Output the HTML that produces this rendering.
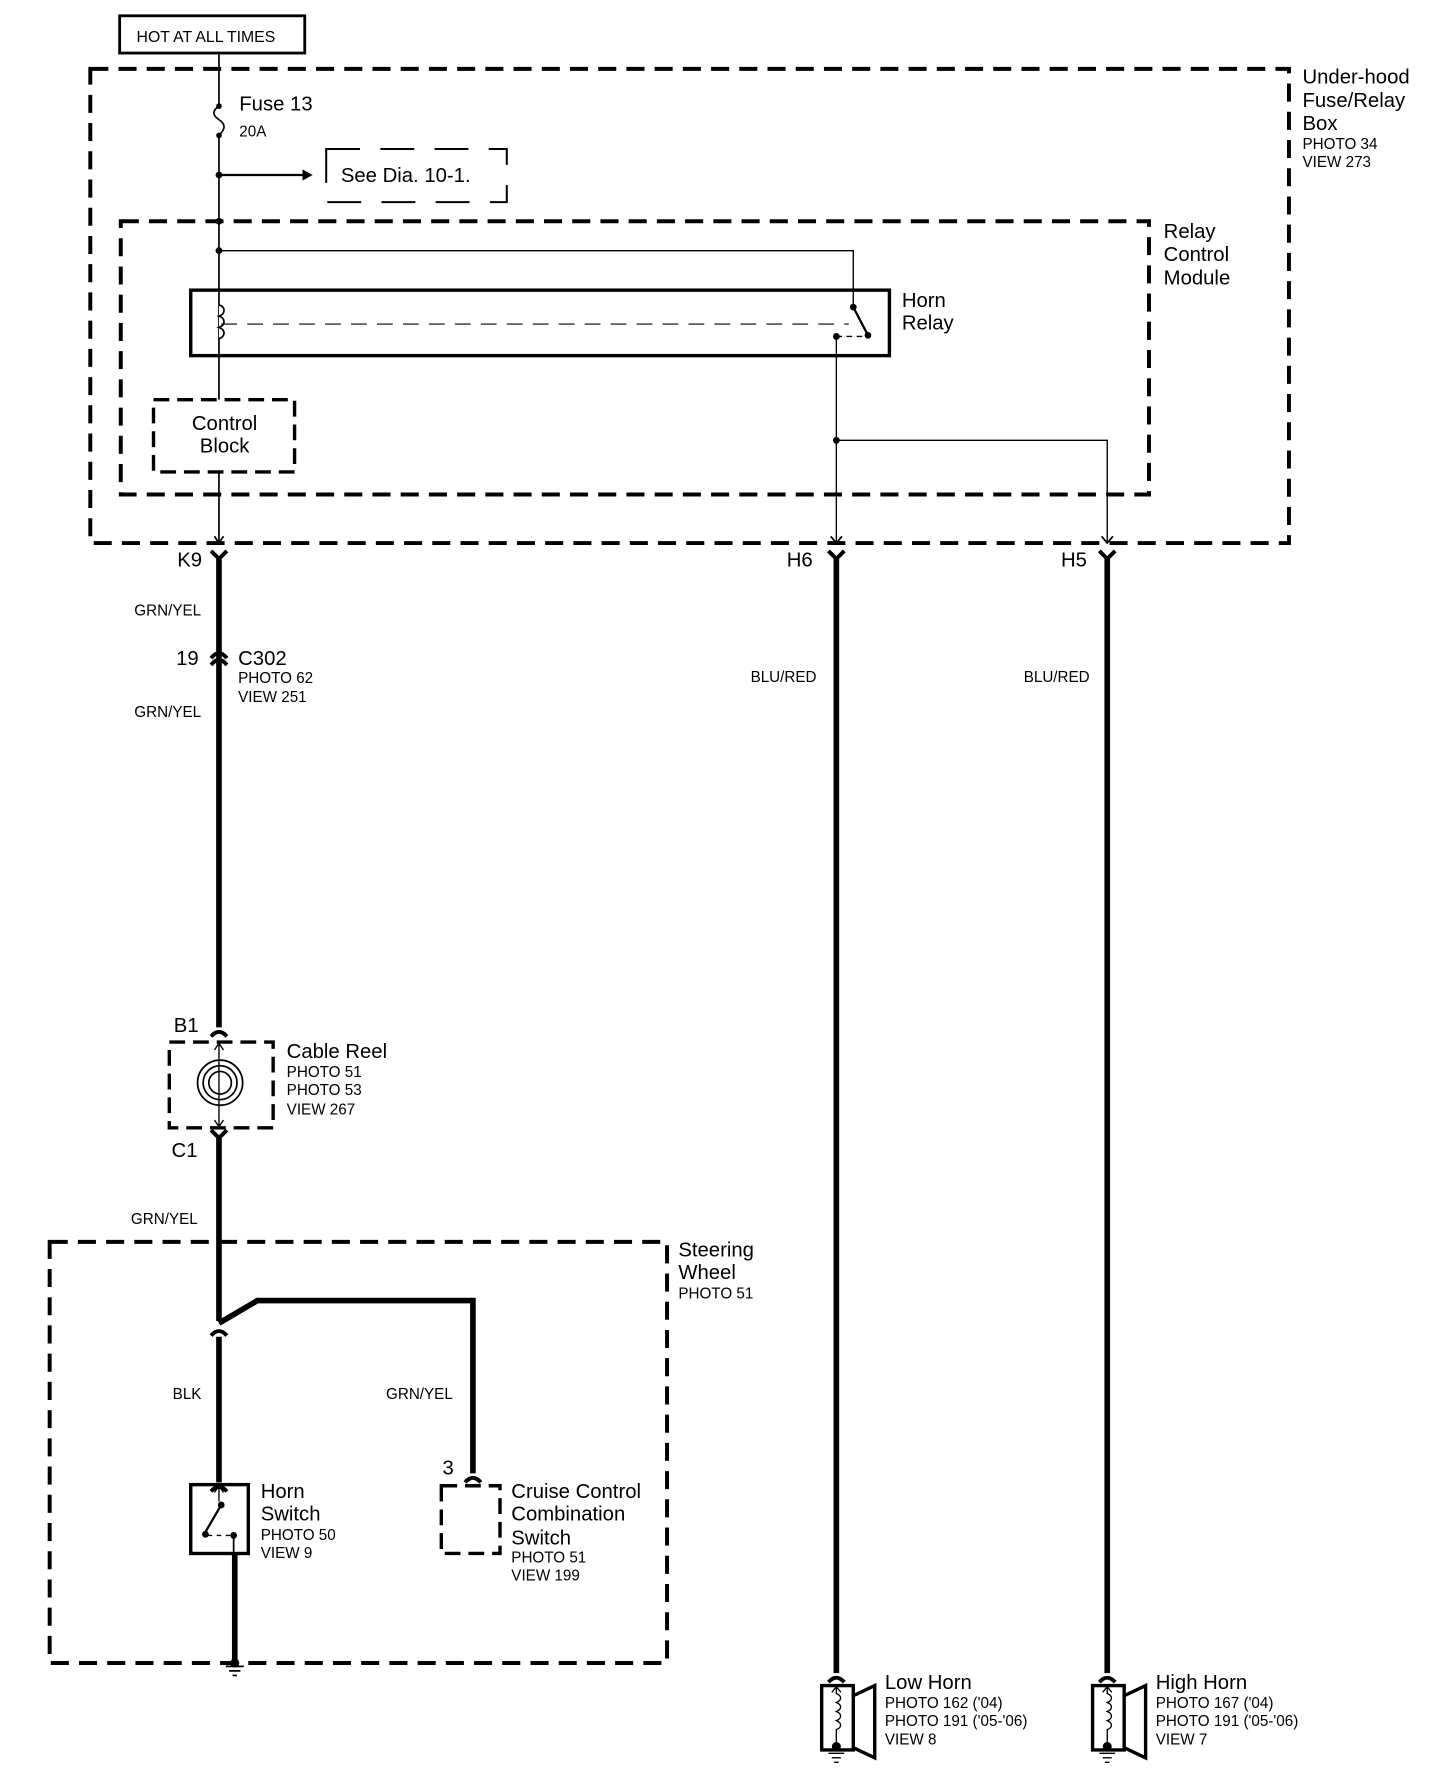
<!DOCTYPE html>
<html><head><meta charset="utf-8"><style>
html,body{margin:0;padding:0;background:#fff}
svg{display:block}
text{font-family:"Liberation Sans",sans-serif;fill:#000}
.s{font-size:13.5px}.m{font-size:18px}
</style></head><body>
<svg width="1456" height="1768" viewBox="0 0 1290 1566" preserveAspectRatio="none" xmlns="http://www.w3.org/2000/svg">
<g fill="none" stroke="#000">
<!-- hot box -->
<rect x="106" y="14" width="164" height="33" stroke-width="2.5"/>
<!-- outer dashed boxes -->
<rect x="80" y="61" width="1062" height="420" stroke-width="3.5" stroke-dasharray="16 9"/>
<rect x="107" y="196" width="911" height="242" stroke-width="3.5" stroke-dasharray="16 9"/>
<rect x="289" y="132" width="160" height="47" stroke-width="1.8" stroke-dasharray="30 18"/>
<rect x="136" y="354" width="125" height="64" stroke-width="3" stroke-dasharray="14 7"/>
<!-- fuse line -->
<path d="M194 47 V94 M194 120 V354 M194 418 V481" stroke-width="1.5"/>
<path d="M194 94 c-6 4 -6 8 0 12 c6 4 6 8 0 14" stroke-width="1.5"/>
<path d="M194 155 H268" stroke-width="2"/>
<!-- relay -->
<path d="M194 222 H756 V272" stroke-width="1.2"/>
<rect x="169" y="257" width="619" height="58" stroke-width="3"/>
<path d="M194 270 c6 2 6 8 0 10 c6 2 6 8 0 10 c6 2 6 8 0 10" stroke-width="1.5" fill="#fff"/>
<path d="M196 287 H752" stroke-width="1" stroke-dasharray="14 9"/>
<path d="M756 272 L768 295" stroke-width="2"/>
<path d="M741 298 H768" stroke-width="1.2" stroke-dasharray="5 4"/>
<path d="M741 298 V481 M741 390 H981 V481" stroke-width="1.2"/>
<!-- wires -->
<path d="M194 495 V910 M194 1008 V1170 M194 1184 V1313 M208 1376 V1470" stroke-width="5"/>
<path d="M194 1172 L228 1152 H419 V1305" stroke-width="5"/>
<path d="M741 495 V1482 M981 495 V1482" stroke-width="5"/>
<!-- connector glyphs (arrow + cup) -->
<g stroke-width="1.5">
<path d="M190 475 L194 481 L198 475 M736 475 L741 481 L746 475 M976 475 L981 481 L986 475"/>
</g>
<g stroke-width="3.5">
<path d="M187 488 L194 495 L201 488 M734 488 L741 495 L748 488 M974 488 L981 495 L988 488"/>
<path d="M187 583 Q194 574 201 583 M187 589 Q194 580 201 589"/>
<path d="M187 918 Q194 910 201 918"/>
<path d="M187 1001 L194 1008 L201 1001"/>
<path d="M187 1183 Q194 1175 201 1183"/>
<path d="M187 1321 Q194 1313 201 1321"/>
<path d="M412 1313 Q419 1305 426 1313"/>
<path d="M734 1490 Q741 1482 748 1490 M974 1490 Q981 1482 988 1490"/>
</g>
<!-- cable reel -->
<rect x="150" y="923" width="92" height="76" stroke-width="3" stroke-dasharray="14 7"/>
<circle cx="195" cy="959" r="20" stroke-width="1.5"/>
<circle cx="195" cy="959" r="15" stroke-width="1.5"/>
<circle cx="195" cy="959" r="10" stroke-width="1.5"/>
<path d="M194 925 V960 M194 959 V997 M190 930 L194 924 L198 930 M190 992 L194 998 L198 992" stroke-width="1.2"/>
<!-- steering wheel -->
<rect x="44" y="1100" width="547" height="373" stroke-width="3.5" stroke-dasharray="16 9"/>
<rect x="169" y="1315" width="51" height="61" stroke-width="3"/>
<path d="M194 1316 V1330 M190 1322 L194 1316 L198 1322" stroke-width="1.2"/>
<path d="M196 1333 L182 1357" stroke-width="2"/>
<path d="M184 1360 H204" stroke-width="1.2" stroke-dasharray="4 4"/>
<path d="M207 1360 V1376" stroke-width="1.5"/>
<rect x="391" y="1316" width="52" height="60" stroke-width="3" stroke-dasharray="14 7"/>
<!-- ground -->
<path d="M200 1476 H216 M203 1480 H213 M206 1484 H210" stroke-width="1.5"/>
<!-- horns -->
<g stroke-width="3">
<rect x="728" y="1493" width="28" height="57"/><path d="M756 1502 L775 1493 V1557 L756 1548"/>
<rect x="968" y="1493" width="28" height="57"/><path d="M996 1502 L1015 1493 V1557 L996 1548"/>
</g>
<g stroke-width="1.2">
<path d="M741 1494 V1500 c5 2 5 6 0 8 c5 2 5 6 0 8 c5 2 5 6 0 8 c5 2 5 6 0 8 V1545 M737 1499 L741 1494 L745 1499"/>
<path d="M981 1494 V1500 c5 2 5 6 0 8 c5 2 5 6 0 8 c5 2 5 6 0 8 c5 2 5 6 0 8 V1545 M977 1499 L981 1494 L985 1499"/>
<path d="M734 1553 H748 M737 1557 H745 M739 1561 H743 M974 1553 H988 M977 1557 H985 M979 1561 H983"/>
</g>
</g>
<g fill="#000">
<circle cx="194" cy="94" r="2.5"/><circle cx="194" cy="120" r="2.5"/>
<circle cx="194" cy="155" r="3"/><circle cx="194" cy="196" r="3"/><circle cx="194" cy="222" r="3"/>
<path d="M268 150 L277 155 L268 160 Z"/>
<circle cx="756" cy="272" r="3"/><circle cx="769" cy="297" r="3"/><circle cx="741" cy="298" r="3"/><circle cx="741" cy="390" r="3"/>
<circle cx="196" cy="1333" r="3"/><circle cx="182" cy="1359" r="3"/><circle cx="207" cy="1360" r="3"/>
<circle cx="208" cy="1473" r="4"/><circle cx="741" cy="1547" r="4"/><circle cx="981" cy="1547" r="4"/>
</g>
<text x="121" y="37" class="s" style="font-size:14px">HOT AT ALL TIMES</text>
<text x="212" y="98" class="m">Fuse 13</text>
<text x="212" y="121" class="s">20A</text>
<text x="302" y="161" class="m">See Dia. 10-1.</text>
<text x="1154" y="74" class="m">Under-hood</text>
<text x="1154" y="95" class="m">Fuse/Relay</text>
<text x="1154" y="115" class="m">Box</text>
<text x="1154" y="132" class="s">PHOTO 34</text>
<text x="1154" y="148" class="s">VIEW 273</text>
<text x="1031" y="211" class="m">Relay</text>
<text x="1031" y="231" class="m">Control</text>
<text x="1031" y="252" class="m">Module</text>
<text x="799" y="272" class="m">Horn</text>
<text x="799" y="292" class="m">Relay</text>
<text x="199" y="381" class="m" text-anchor="middle">Control</text>
<text x="199" y="401" class="m" text-anchor="middle">Block</text>
<text x="157" y="502" class="m">K9</text>
<text x="697" y="502" class="m">H6</text>
<text x="940" y="502" class="m">H5</text>
<text x="119" y="545" class="s">GRN/YEL</text>
<text x="156" y="589" class="m">19</text>
<text x="211" y="589" class="m">C302</text>
<text x="211" y="605" class="s">PHOTO 62</text>
<text x="211" y="622" class="s">VIEW 251</text>
<text x="119" y="635" class="s">GRN/YEL</text>
<text x="665" y="604" class="s">BLU/RED</text>
<text x="907" y="604" class="s">BLU/RED</text>
<text x="154" y="914" class="m">B1</text>
<text x="254" y="937" class="m">Cable Reel</text>
<text x="254" y="954" class="s">PHOTO 51</text>
<text x="254" y="970" class="s">PHOTO 53</text>
<text x="254" y="987" class="s">VIEW 267</text>
<text x="152" y="1025" class="m">C1</text>
<text x="116" y="1084" class="s">GRN/YEL</text>
<text x="601" y="1113" class="m">Steering</text>
<text x="601" y="1133" class="m">Wheel</text>
<text x="601" y="1150" class="s">PHOTO 51</text>
<text x="153" y="1239" class="s">BLK</text>
<text x="342" y="1239" class="s">GRN/YEL</text>
<text x="392" y="1306" class="m">3</text>
<text x="231" y="1327" class="m">Horn</text>
<text x="231" y="1347" class="m">Switch</text>
<text x="231" y="1364" class="s">PHOTO 50</text>
<text x="231" y="1380" class="s">VIEW 9</text>
<text x="453" y="1327" class="m">Cruise Control</text>
<text x="453" y="1347" class="m">Combination</text>
<text x="453" y="1368" class="m">Switch</text>
<text x="453" y="1384" class="s">PHOTO 51</text>
<text x="453" y="1400" class="s">VIEW 199</text>
<text x="784" y="1496" class="m">Low Horn</text>
<text x="784" y="1513" class="s">PHOTO 162 ('04)</text>
<text x="784" y="1529" class="s">PHOTO 191 ('05-'06)</text>
<text x="784" y="1545" class="s">VIEW 8</text>
<text x="1024" y="1496" class="m">High Horn</text>
<text x="1024" y="1513" class="s">PHOTO 167 ('04)</text>
<text x="1024" y="1529" class="s">PHOTO 191 ('05-'06)</text>
<text x="1024" y="1545" class="s">VIEW 7</text>
</svg>
</body></html>
